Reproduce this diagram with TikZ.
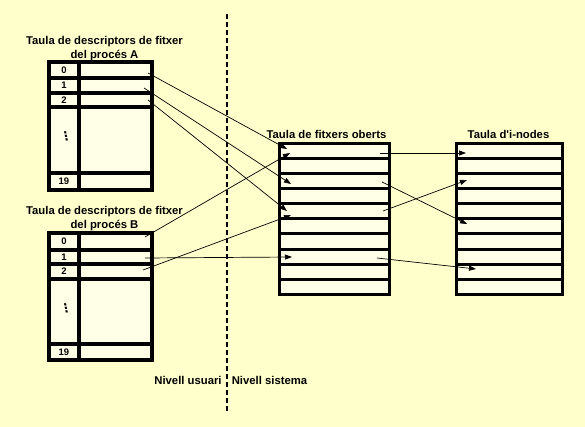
\documentclass[tikz,border=0pt]{standalone}
\usepackage{fontspec}
\setmainfont{Liberation Sans}
\newfontfamily\arialfont{Liberation Sans}
\newfontfamily\dejavufont{DejaVu Sans}
\usetikzlibrary{arrows.meta}
\definecolor{bg}{RGB}{255,255,204}
\definecolor{cell}{RGB}{255,255,232}
\begin{document}
\begin{tikzpicture}[x=1pt,y=-1pt,
  tbl/.style={line width=3.2pt},
  ftbl/.style={line width=3pt},
  lbl/.style={font=\arialfont\bfseries\fontsize{11.3}{13.5}\selectfont, inner sep=0pt},
  num/.style={font=\arialfont\bfseries\fontsize{9.5}{10}\selectfont, inner sep=0pt},
  dotsl/.style={font=\dejavufont\bfseries\fontsize{12}{12}\selectfont, inner sep=0pt},
  link/.style={line width=0.7pt, -{Triangle[length=7pt,width=5pt]}},
  sep/.style={line width=1.2pt, dash pattern=on 5pt off 3pt}]
\fill[bg] (0,0) rectangle (585,427);
\useasboundingbox (0,0) rectangle (585,427);

% separator
\coordinate (septop) at (227,14);
\coordinate (sepbot) at (227,413);
\draw[sep] (septop) -- (sepbot);

% ---- descriptor table A
\fill[cell] (49,62) rectangle (152,190);
\draw[tbl] (49,62) rectangle (152,190);
\draw[tbl] (79,62) -- (79,190);
\foreach \y in {78,93,107,173} \draw[tbl] (49,\y) -- (152,\y);
\node[lbl, align=center, anchor=north] (titleA) at (104.5,36.5) {Taula de descriptors de fitxer\\del procés A};
\node[num] (A0n) at (64,70) {0};
\node[num] (A1n) at (64,85.5) {1};
\node[num] (A2n) at (64,100) {2};
\node[dotsl, xslant=-0.2] (Adn) at (66,136) {⋮};
\node[num] (A19n) at (64,181.5) {19};

% ---- descriptor table B
\fill[cell] (49,233) rectangle (152,360);
\draw[tbl] (49,233) rectangle (152,360);
\draw[tbl] (79,233) -- (79,360);
\foreach \y in {250,264,279,344} \draw[tbl] (49,\y) -- (152,\y);
\node[lbl, align=center, anchor=north] (titleB) at (104.5,206.5) {Taula de descriptors de fitxer\\del procés B};
\node[num] (B0n) at (64,241.5) {0};
\node[num] (B1n) at (64,257) {1};
\node[num] (B2n) at (64,271.5) {2};
\node[dotsl, xslant=-0.2] (Bdn) at (66,308) {⋮};
\node[num] (B19n) at (64,352) {19};

% ---- open files table
\fill[cell] (279,144) rectangle (389,294);
\draw[ftbl] (279,144) rectangle (389,294);
\foreach \k in {1,...,9} \draw[ftbl] (279,144+15*\k) -- (389,144+15*\k);
\node[lbl, anchor=base] (titleF) at (326.5,139) {Taula de fitxers oberts};

% ---- i-node table
\fill[cell] (456,144) rectangle (562,294);
\draw[ftbl] (456,144) rectangle (562,294);
\foreach \k in {1,...,9} \draw[ftbl] (456,144+15*\k) -- (562,144+15*\k);
\node[lbl, anchor=base] (titleI) at (508.5,139) {Taula d'i-nodes};

% ---- level labels
\node[lbl, anchor=base] (user) at (188,384) {Nivell usuari};
\node[lbl, anchor=base] (sys) at (269.5,384) {Nivell sistema};

% ---- connector end points
\coordinate (a0) at (148,73);
\coordinate (a1) at (144,88);
\coordinate (a2) at (148,100);
\coordinate (b0) at (145,237);
\coordinate (b1) at (145,258);
\coordinate (b2) at (143,270);
\coordinate (fa0) at (287,149);
\coordinate (fb0) at (290,153);
\coordinate (fa1) at (291,184);
\coordinate (fa2) at (287,211);
\coordinate (fb2) at (291,215);
\coordinate (fb1) at (292,257);
\coordinate (f0) at (380,153);
\coordinate (f2) at (382,182);
\coordinate (f4) at (383,211);
\coordinate (f7) at (377,258);
\coordinate (i0) at (466,153);
\coordinate (i5) at (467,224);
\coordinate (i2) at (467,180);
\coordinate (i8) at (476,269);

\draw[link] (a0) -- (fa0);
\draw[link] (a1) -- (fa1);
\draw[link] (a2) -- (fa2);
\draw[link] (b0) -- (fb0);
\draw[link] (b1) -- (fb1);
\draw[link] (b2) -- (fb2);
\draw[link] (f0) -- (i0);
\draw[link] (f2) -- (i5);
\draw[link] (f4) -- (i2);
\draw[link] (f7) -- (i8);
\end{tikzpicture}
\end{document}
